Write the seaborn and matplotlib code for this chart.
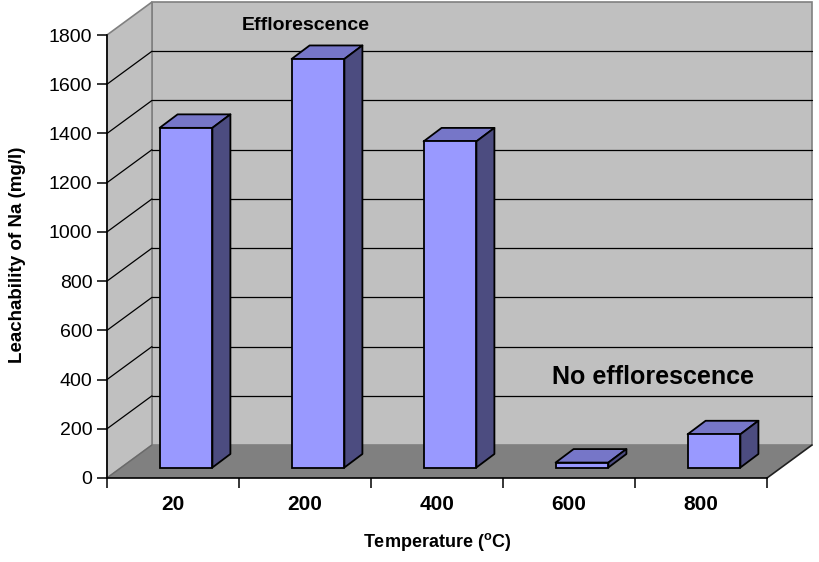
import matplotlib
matplotlib.use('Agg')
import matplotlib.pyplot as plt
import seaborn as sns
import pandas as pd
from matplotlib.patches import Polygon
from matplotlib.transforms import ScaledTranslation

# ---- data ----
temperatures = ['20', '200', '400', '600', '800']
leachability = [1380, 1660, 1325, 20, 135]
y_ticks = [0, 200, 400, 600, 800, 1000, 1200, 1400, 1600, 1800]
annot_top = 'Efflorescence'
annot_low = 'No efflorescence'

sns.set_theme(style='white')
plt.rcParams['font.family'] = ['Liberation Sans', 'DejaVu Sans']
plt.rcParams['mathtext.fontset'] = 'custom'
plt.rcParams['mathtext.rm'] = 'Liberation Sans'
plt.rcParams['mathtext.bf'] = 'Liberation Sans:bold'
for k in ['text.color', 'axes.labelcolor', 'xtick.color', 'ytick.color']:
    plt.rcParams[k] = 'black'

W, H, DPI = 819, 562, 100
fig = plt.figure(figsize=(W / DPI, H / DPI), dpi=DPI)
fig.patch.set_facecolor('white')

# front plane of the chart in pixels
x0, x1, yb, yt = 107, 767, 478, 35
ax = fig.add_axes([x0 / W, 1 - yb / H, (x1 - x0) / W, (yb - yt) / H])
ymax = y_ticks[-1]
ax.set_xlim(-0.5, len(temperatures) - 0.5)
ax.set_ylim(0, ymax)
ax.patch.set_visible(False)

px_x = (x1 - x0) / len(temperatures)   # pixels per category unit
px_y = (yb - yt) / ymax                 # pixels per value unit


def P(x, y, dxp=0.0, dyp=0.0):
    return (x + dxp / px_x, y + dyp / px_y)

# depth offsets (pixels)
WALL = (45, 33)
BAR_FRONT = (13, 10.5)
BAR_DEPTH = (18, 13.5)

xl, xr = -0.5, len(temperatures) - 0.5
wall_col = '#C0C0C0'
floor_col = '#808080'
edge_gray = '#808080'

# back wall
ax.add_patch(Polygon([P(xl, 0, *WALL), P(xr, 0, *WALL), P(xr, ymax, *WALL), P(xl, ymax, *WALL)],
                     closed=True, facecolor=wall_col, edgecolor=edge_gray, lw=1.2,
                     zorder=0.2, clip_on=False))
# left wall
ax.add_patch(Polygon([P(xl, 0), P(xl, 0, *WALL), P(xl, ymax, *WALL), P(xl, ymax)],
                     closed=True, facecolor=wall_col, edgecolor=edge_gray, lw=1.2,
                     zorder=0.2, clip_on=False))
# gridlines
for v in y_ticks[1:-1]:
    a, b = P(xl, v, *WALL), P(xr, v, *WALL)
    ax.plot([a[0], b[0]], [a[1], b[1]], color='black', lw=0.9, zorder=0.3, clip_on=False)
    c = P(xl, v)
    ax.plot([c[0], a[0]], [c[1], a[1]], color='black', lw=0.9, zorder=0.3, clip_on=False)
# floor
ax.add_patch(Polygon([P(xl, 0), P(xr, 0), P(xr, 0, *WALL), P(xl, 0, *WALL)],
                     closed=True, facecolor=floor_col, edgecolor='none',
                     zorder=0.4, clip_on=False))
a, b = P(xr, 0), P(xr, 0, *WALL)
ax.plot([a[0], b[0]], [a[1], b[1]], color='#202020', lw=1.2, zorder=0.45, clip_on=False)
a, b = P(xl, 0), P(xl, 0, *WALL)
ax.plot([a[0], b[0]], [a[1], b[1]], color='#6a6a6a', lw=1.0, zorder=0.45, clip_on=False)

# bars (front faces) with seaborn
df = pd.DataFrame({'Temperature': temperatures, 'Leachability': leachability})
sns.barplot(data=df, x='Temperature', y='Leachability', ax=ax, width=0.4,
            color='#9999FF', saturation=1, edgecolor='black', linewidth=1.3, zorder=2)

front_col = '#9999FF'
top_col = '#7676C8'
side_col = '#4C4C80'
shift = ScaledTranslation(BAR_FRONT[0] / DPI, BAR_FRONT[1] / DPI, fig.dpi_scale_trans)
fdx, fdy = BAR_FRONT
ddx, ddy = BAR_FRONT[0] + BAR_DEPTH[0], BAR_FRONT[1] + BAR_DEPTH[1]
for bar in list(ax.patches):
    if bar.get_facecolor()[:3] == matplotlib.colors.to_rgb(front_col) and bar.get_width() < 1:
        bx, bw, bh = bar.get_x(), bar.get_width(), bar.get_height()
        bar.set_transform(ax.transData + shift)
        bar.set_clip_on(False)
        bar.set_zorder(3)
        # top face
        ax.add_patch(Polygon([P(bx, bh, fdx, fdy), P(bx + bw, bh, fdx, fdy),
                              P(bx + bw, bh, ddx, ddy), P(bx, bh, ddx, ddy)],
                             closed=True, facecolor=top_col, edgecolor='black', lw=1.3,
                             joinstyle='round', zorder=2.9, clip_on=False))
        # side face
        ax.add_patch(Polygon([P(bx + bw, 0, fdx, fdy), P(bx + bw, 0, ddx, ddy),
                              P(bx + bw, bh, ddx, ddy), P(bx + bw, bh, fdx, fdy)],
                             closed=True, facecolor=side_col, edgecolor='black', lw=1.3,
                             joinstyle='round', zorder=2.9, clip_on=False))

# axes styling
for s in ['top', 'right']:
    ax.spines[s].set_visible(False)
for s in ['left', 'bottom']:
    ax.spines[s].set_color('black')
    ax.spines[s].set_linewidth(1.2)
    ax.spines[s].set_zorder(5)
ax.set_yticks(y_ticks)
ax.set_yticklabels([str(v) for v in y_ticks], fontsize=14, color='black')
ax.tick_params(axis='y', direction='out', length=7, width=1.1, color='black', pad=3.5, left=True)
ax.set_xticks(range(len(temperatures)))
ax.set_xticklabels(temperatures, fontsize=15, fontweight='bold', color='black')
ax.tick_params(axis='x', which='major', length=0, pad=12)
ax.set_xticks([i - 0.5 for i in range(len(temperatures) + 1)], minor=True)
ax.tick_params(axis='x', which='minor', direction='out', length=7, width=1.1, color='black', bottom=True)
ax.set_xlabel('')
ax.set_ylabel('')
ax.grid(False)

# labels and annotations
fig.text(437 / W, 1 - 542 / H, r'Temperature ($\mathbf{^{o}}$C)', ha='center', va='center',
         fontsize=13, fontweight='bold', color='black')
fig.text(18 / W, 1 - 255 / H, 'Leachability of Na (mg/l)', ha='center', va='center',
         rotation=90, fontsize=13.5, fontweight='bold', color='black')
fig.text(306 / W, 1 - 25 / H, annot_top, ha='center', va='center', fontsize=14,
         fontweight='bold', color='black')
fig.text(653 / W, 1 - 377 / H, annot_low, ha='center', va='center', fontsize=18,
         fontweight='bold', color='black')

fig.savefig('out.png', dpi=DPI)
